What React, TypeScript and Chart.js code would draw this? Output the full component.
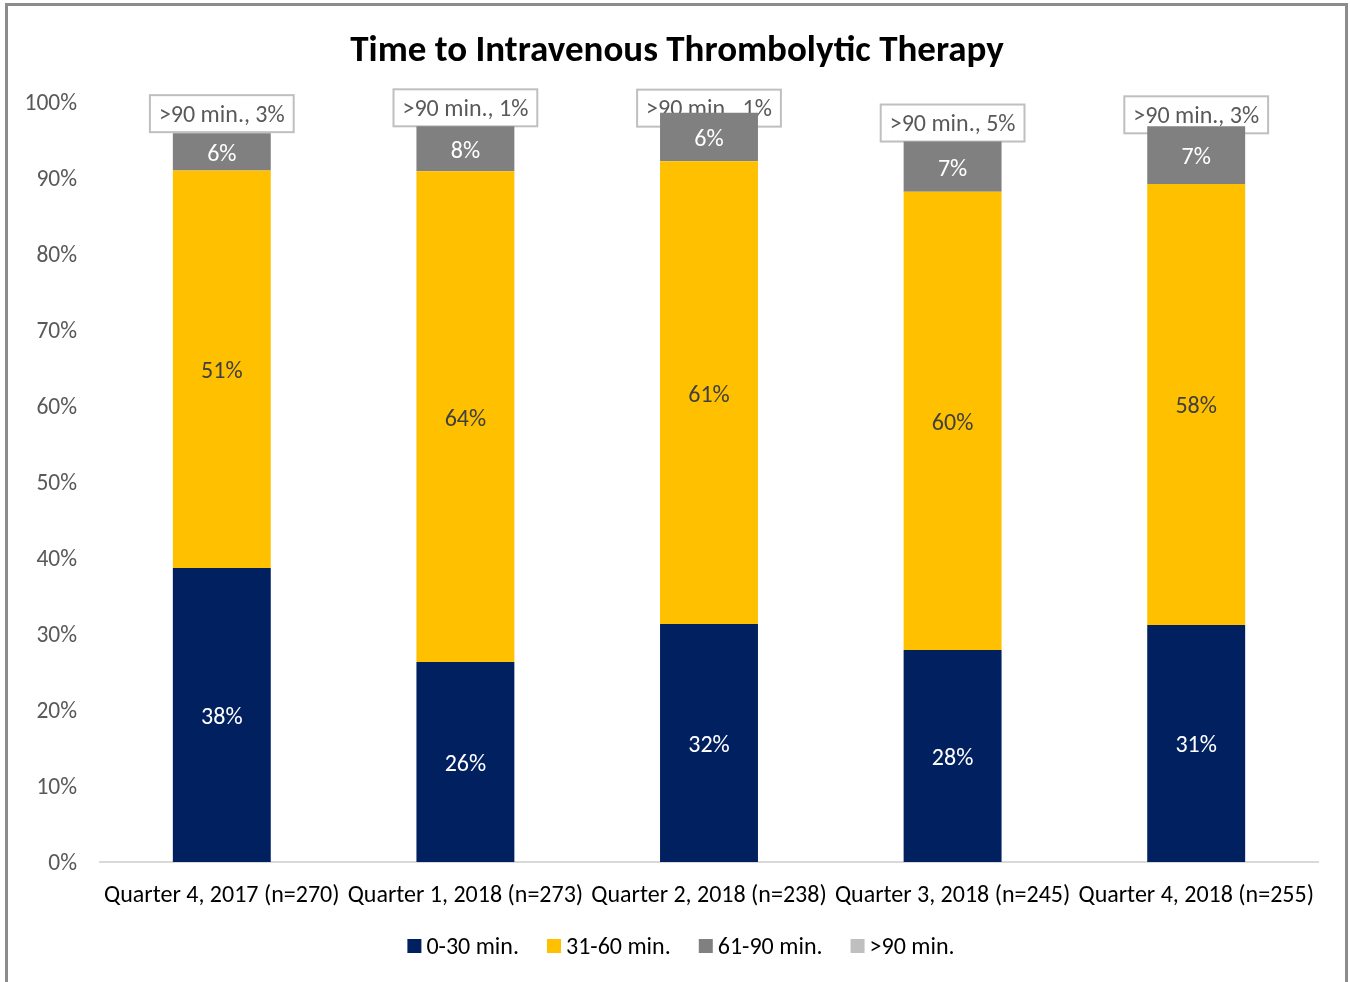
import React, { useEffect, useRef } from "react";
import { Chart, registerables } from "chart.js";

Chart.register(...registerables);

const FONT = "Carlito, Lato, 'Open Sans', sans-serif";

const categories = [
  "Quarter 4, 2017 (n=270)",
  "Quarter 1, 2018 (n=273)",
  "Quarter 2, 2018 (n=238)",
  "Quarter 3, 2018 (n=245)",
  "Quarter 4, 2018 (n=255)",
];
const seriesNames = ["0-30 min.", "31-60 min.", "61-90 min.", ">90 min."];
const seriesColors = ["#002060", "#FFC000", "#808080", "#BFBFBF"];

// bar heights (percent)
const min0to30 = [38.7, 26.3, 31.3, 27.9, 31.2];
const min31to60 = [52.3, 64.6, 60.9, 60.3, 58.0];
const min61to90 = [4.9, 5.9, 6.4, 6.6, 7.6];
const over90 = [3, 1, 1, 5, 3];

// printed labels
const label0to30 = ["38%", "26%", "32%", "28%", "31%"];
const label31to60 = ["51%", "64%", "61%", "60%", "58%"];
const label61to90 = ["6%", "8%", "6%", "7%", "7%"];
const labelOver90 = ["3%", "1%", "1%", "5%", "3%"];

const yTickMax = 100;
const yTickStep = 10;

// styling: vertical nudge (px) of the ">90" call-out boxes
const boxNudge = [-1, 0, 14, 0, 7];

const labelColors = ["#FFFFFF", "#404040", "#FFFFFF"];

const overlayPlugin = {
  id: "overlay",
  beforeDatasetsDraw(chart: any) {
    const ctx = chart.ctx;
    const grayMeta = chart.getDatasetMeta(2);
    ctx.save();
    ctx.font = `24px ${FONT}`;
    ctx.textAlign = "center";
    ctx.textBaseline = "middle";
    grayMeta.data.forEach((el: any, i: number) => {
      const text = `${seriesNames[3]}, ${labelOver90[i]}`;
      const w = ctx.measureText(text).width + 18;
      const h = 37;
      const bottom = el.y + boxNudge[i];
      const x0 = el.x - w / 2;
      const y0 = bottom - h;
      ctx.fillStyle = "#FFFFFF";
      ctx.fillRect(x0, y0, w, h);
      ctx.strokeStyle = "#BFBFBF";
      ctx.lineWidth = 2;
      ctx.strokeRect(x0, y0, w, h);
      ctx.fillStyle = "#595959";
      ctx.fillText(text, el.x, y0 + h / 2 + 2);
    });
    ctx.restore();
  },
  afterDatasetsDraw(chart: any) {
    const ctx = chart.ctx;
    const labelSets = [label0to30, label31to60, label61to90];
    ctx.save();
    ctx.font = `24px ${FONT}`;
    ctx.textAlign = "center";
    ctx.textBaseline = "middle";
    labelSets.forEach((labels, d) => {
      const meta = chart.getDatasetMeta(d);
      meta.data.forEach((el: any, i: number) => {
        ctx.fillStyle = labelColors[d];
        ctx.fillText(labels[i], el.x, (el.y + el.base) / 2 + 3);
      });
    });
    ctx.restore();
  },
  afterDraw(chart: any) {
    const ctx = chart.ctx;
    ctx.save();
    // title
    ctx.font = `bold 37px ${FONT}`;
    ctx.fillStyle = "#000000";
    ctx.textAlign = "center";
    ctx.textBaseline = "middle";
    ctx.fillText("Time to Intravenous Thrombolytic Therapy", 677, 52);
    // legend
    ctx.font = `24px ${FONT}`;
    const box = 14;
    const gap = 5;
    const itemGap = 28;
    const widths = seriesNames.map((n) => ctx.measureText(n).width);
    const total =
      widths.reduce((a, b) => a + b + box + gap, 0) + itemGap * (seriesNames.length - 1);
    let x = 681 - total / 2;
    const cy = 946;
    ctx.textAlign = "left";
    seriesNames.forEach((n, i) => {
      ctx.fillStyle = seriesColors[i];
      ctx.fillRect(x, cy - box / 2, box, box);
      ctx.fillStyle = "#000000";
      ctx.fillText(n, x + box + gap, cy + 2);
      x += box + gap + widths[i] + itemGap;
    });
    ctx.restore();
  },
};

export default function App() {
  const canvasRef = useRef<HTMLCanvasElement | null>(null);

  useEffect(() => {
    const canvas = canvasRef.current;
    if (!canvas) return;
    const chart = new Chart(canvas, {
      type: "bar",
      data: {
        labels: categories,
        datasets: [
          { label: seriesNames[0], data: min0to30, backgroundColor: seriesColors[0] },
          { label: seriesNames[1], data: min31to60, backgroundColor: seriesColors[1] },
          { label: seriesNames[2], data: min61to90, backgroundColor: seriesColors[2] },
          { label: seriesNames[3], data: over90, backgroundColor: "rgba(0,0,0,0)" },
        ],
      },
      options: {
        responsive: false,
        maintainAspectRatio: false,
        animation: false,
        devicePixelRatio: 1,
        layout: { padding: { top: 102, right: 32, left: 0, bottom: 0 } },
        datasets: { bar: { categoryPercentage: 1, barPercentage: 0.402 } },
        plugins: {
          legend: { display: false },
          title: { display: false },
          tooltip: { enabled: false },
        },
        scales: {
          x: {
            stacked: true,
            grid: { display: false, drawTicks: false },
            border: { display: true, color: "#D9D9D9", width: 2 },
            ticks: {
              color: "#000000",
              font: { family: FONT, size: 24 },
              maxRotation: 0,
              minRotation: 0,
              autoSkip: false,
              padding: 20,
            },
            afterFit: (s: any) => {
              s.height = 120;
            },
          },
          y: {
            stacked: true,
            min: 0,
            max: yTickMax,
            grid: { display: false, drawTicks: false },
            border: { display: false },
            ticks: {
              stepSize: yTickStep,
              color: "#595959",
              font: { family: FONT, size: 23.5 },
              padding: 23,
              labelOffset: 2,
              callback: (v: any) => `${v}%`,
            },
            afterFit: (s: any) => {
              s.width = 100;
            },
          },
        },
      },
      plugins: [overlayPlugin],
    });
    return () => chart.destroy();
  }, []);

  return (
    <div
      style={{
        position: "fixed",
        left: 0,
        top: 0,
        width: 1350,
        height: 982,
        overflow: "hidden",
        background: "#FFFFFF",
      }}
    >
      <div
        style={{
          position: "absolute",
          left: 5,
          top: 3,
          width: 1343,
          height: 1010,
          border: "3px solid #8C8C8C",
          boxSizing: "border-box",
        }}
      />
      <canvas
        ref={canvasRef}
        width={1350}
        height={982}
        style={{ position: "absolute", left: 0, top: 0, width: 1350, height: 982 }}
      />
    </div>
  );
}
